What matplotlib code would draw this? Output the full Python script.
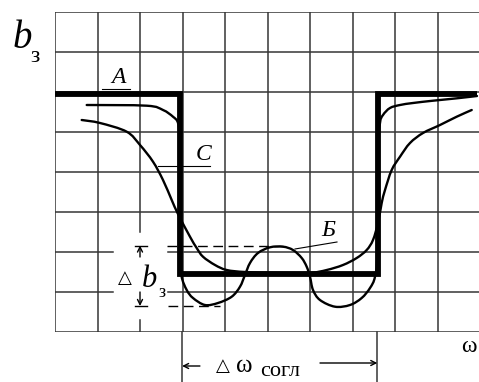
import numpy as np
import matplotlib
matplotlib.use("Agg")
import matplotlib.pyplot as plt
from matplotlib.path import Path
from matplotlib.patches import PathPatch

# --- grid units: one cell = 1 unit, 10 columns x 8 rows ---
grid_x = np.arange(0, 10)          # vertical grid lines
grid_y = np.arange(0, 9)           # horizontal grid lines

# ideal (rectangular) characteristic, curve A
ideal_x = [0.0, 2.94, 2.94, 7.59, 7.59, 9.93]
ideal_y = [5.94, 5.94, 1.46, 1.46, 5.94, 5.94]

# smooth characteristic, curve C
curve_c_x = [0.628, 1.059, 1.687, 2.0, 2.306, 2.541, 2.746, 2.894, 3.176, 3.334,
             3.482, 3.765, 4.04, 4.47, 5.2, 6.0, 6.393, 6.776, 7.099, 7.334,
             7.482, 7.6, 7.687, 7.765, 7.922, 8.118, 8.353, 8.659, 9.059,
             9.452, 9.805]
curve_c_y = [5.30, 5.225, 5.0075, 4.675, 4.2575, 3.80, 3.30, 2.95, 2.3825, 2.10,
             1.8825, 1.675, 1.55, 1.50, 1.48, 1.48, 1.55, 1.675, 1.85, 2.05,
             2.30, 2.725, 3.225, 3.55, 4.05, 4.3825, 4.725, 4.975, 5.175,
             5.3825, 5.55]

# characteristic with ripple in the pass band, curve Б
curve_b_x = [0.746, 2.158, 2.541, 2.776, 2.894, 2.93, 2.95, 2.97, 2.98, 3.099,
             3.247, 3.529, 3.835, 4.158, 4.353, 4.47, 4.588, 4.776, 5.059, 5.365,
             5.6, 5.805, 5.922, 6.0, 6.071, 6.235, 6.588, 6.941, 7.216, 7.412,
             7.529, 7.585, 7.6, 7.647, 7.718, 7.882, 8.118, 8.424, 8.894,
             9.459, 9.929]
curve_b_y = [5.675, 5.6575, 5.55, 5.3825, 5.225, 4.8, 3.0, 1.8, 1.3825, 1.05,
             0.85, 0.675, 0.725, 0.8825, 1.1325, 1.425, 1.725, 1.975, 2.1175, 2.1325,
             2.05, 1.85, 1.6325, 1.3825, 1.05, 0.80, 0.6325, 0.675, 0.85, 1.10,
             1.3825, 2.0, 4.5, 5.225, 5.425, 5.60, 5.675, 5.725, 5.7825,
             5.8425, 5.90]

# ripple limits (Δb) and pass band edges (Δω)
ripple_top, ripple_bottom = 2.1625, 0.65
band_left, band_right = 2.99, 7.584

GRID = "#363636"
SERIF = ["Liberation Serif", "DejaVu Serif"]
SYM = ["Liberation Serif", "DejaVu Sans"]


def smooth_path(xs, ys):
    """Cubic Bezier path passing through every point (Catmull-Rom tangents)."""
    p = np.column_stack([xs, ys]).astype(float)
    n = len(p)
    verts = [p[0]]
    codes = [Path.MOVETO]
    for i in range(n - 1):
        p0 = p[i - 1] if i > 0 else p[i]
        p1, p2 = p[i], p[i + 1]
        p3 = p[i + 2] if i + 2 < n else p[i + 1]
        c1 = p1 + (p2 - p0) / 6.0
        c2 = p2 - (p3 - p1) / 6.0
        verts += [c1, c2, p2]
        codes += [Path.CURVE4] * 3
    return Path(verts, codes)


fig = plt.figure(figsize=(4.79, 3.82), dpi=100)
ax = fig.add_axes([55 / 479, 50 / 382, 425 / 479, 320 / 382])
ax.set_xlim(0, 10)
ax.set_ylim(0, 8)
ax.axis("off")

# grid with gaps left for the Δb dimension
gap_x0, gap_x1 = 1.365, 2.66
for gx in grid_x:
    if gx == 2:
        ax.plot([gx, gx], [2.5, 8], color=GRID, lw=1.1, zorder=1)
        ax.plot([gx, gx], [0, 0.3], color=GRID, lw=1.1, zorder=1)
    else:
        ax.plot([gx, gx], [0, 8], color=GRID, lw=1.1, zorder=1)
for gy in grid_y:
    if gy in (1, 2):
        ax.plot([0, gap_x0], [gy, gy], color=GRID, lw=1.1, zorder=1)
        ax.plot([gap_x1, 10], [gy, gy], color=GRID, lw=1.1, zorder=1)
    else:
        ax.plot([0, 10], [gy, gy], color=GRID, lw=1.1, zorder=1)

# characteristics
for cx, cy in ((curve_c_x, curve_c_y), (curve_b_x, curve_b_y)):
    ax.add_patch(PathPatch(smooth_path(cx, cy), facecolor="none",
                           edgecolor="black", lw=1.7, zorder=3,
                           capstyle="round"))
ax.plot(ideal_x, ideal_y, color="black", lw=4.2, zorder=4,
        solid_joinstyle="miter", solid_capstyle="butt")

# curve labels with leaders
ax.plot([1.106, 1.765], [6.075, 6.075], color="black", lw=0.8, zorder=3)
ax.text(1.50, 6.09, "A", fontsize=17, style="italic", family=SERIF,
        ha="center", va="bottom", zorder=5)
ax.plot([2.424, 3.647], [4.15, 4.15], color="black", lw=0.8, zorder=3)
ax.text(3.50, 4.17, "C", fontsize=17, style="italic", family=SERIF,
        ha="center", va="bottom", zorder=5)
ax.plot([5.647, 6.635], [2.075, 2.25], color="black", lw=0.8, zorder=3)
ax.text(6.42, 2.27, "Б", fontsize=17, style="italic", family=SERIF,
        ha="center", va="bottom", zorder=5)

# ripple limit lines
ax.plot([2.635, 5.365], [ripple_top, ripple_top], color="black", lw=1.0,
        dashes=(7, 4), zorder=2)
ax.plot([2.66, 3.88], [ripple_bottom, ripple_bottom], color="black", lw=1.0,
        dashes=(7, 4), zorder=2)
for yy in (ripple_top, ripple_bottom):
    ax.plot([1.88, 2.165], [yy, yy], color="black", lw=1.0, zorder=2)
arrow = dict(arrowstyle="->", lw=1.0, color="black", mutation_scale=9,
             shrinkA=0, shrinkB=0)
ax.annotate("", xy=(2.0, ripple_top), xytext=(2.0, 1.875), arrowprops=arrow)
ax.annotate("", xy=(2.0, ripple_bottom), xytext=(2.0, 1.0), arrowprops=arrow)
ax.text(1.647, 1.33, "△", fontsize=13, family=SYM, ha="center", va="center")
ax.text(2.22, 1.125, "b", fontsize=22, style="italic", family=SERIF,
        ha="center", va="baseline")
ax.text(2.51, 0.875, "з", fontsize=13, family=SERIF, ha="center",
        va="baseline")

# pass band width
for bx in (band_left, band_right):
    ax.plot([bx, bx], [0, -1.3], color=GRID, lw=1.1, clip_on=False, zorder=2)
ax.annotate("", xy=(band_left, -0.85), xytext=(3.41, -0.85),
            arrowprops=arrow, annotation_clip=False)
ax.annotate("", xy=(band_right, -0.775), xytext=(6.235, -0.775),
            arrowprops=arrow, annotation_clip=False)
ax.text(3.953, -0.86, "△", fontsize=13, family=SYM, ha="center", va="center")
ax.text(4.45, -0.85, "ω", fontsize=18, family=SERIF, ha="center", va="center")
ax.text(5.29, -1.09, "согл", fontsize=16, family=SERIF, ha="center",
        va="baseline")

# axis names
ax.text(9.74, -0.375, "ω", fontsize=17, family=SERIF, ha="center",
        va="center", clip_on=False)
ax.text(-0.776, 7.1, "b", fontsize=28, style="italic", family=SERIF,
        ha="center", va="baseline")
ax.text(-0.47, 6.75, "з", fontsize=17, family=SERIF, ha="center",
        va="baseline")

fig.savefig("out.png", dpi=100)
